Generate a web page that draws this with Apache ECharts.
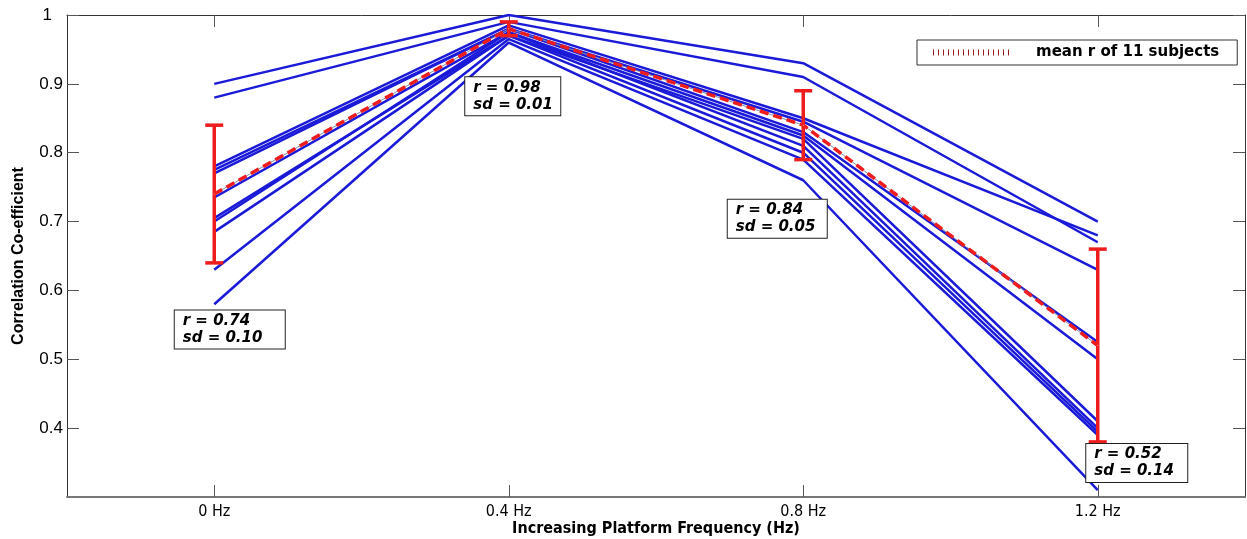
<!DOCTYPE html>
<html>
<head>
<meta charset="utf-8">
<script src="https://cdn.jsdelivr.net/npm/echarts@6/dist/echarts.min.js"></script>
<style>html,body{margin:0;padding:0;background:#fff}#c{width:1247px;height:539px}</style>
</head>
<body>
<div id="c"></div>
<script>
// ---- data ----
const freqs = [0, 0.4, 0.8, 1.2];
const freqLabels = ['0 Hz', '0.4 Hz', '0.8 Hz', '1.2 Hz'];
const yTicks = [0.4, 0.5, 0.6, 0.7, 0.8, 0.9, 1.0];
const subjectR = [
  [0.90, 1.00, 0.93, 0.70],
  [0.88, 0.99, 0.91, 0.67],
  [0.78, 0.985, 0.85, 0.68],
  [0.775, 0.98, 0.845, 0.63],
  [0.77, 0.98, 0.83, 0.525],
  [0.735, 0.975, 0.825, 0.50],
  [0.705, 0.97, 0.82, 0.41],
  [0.70, 0.975, 0.81, 0.40],
  [0.685, 0.97, 0.80, 0.395],
  [0.63, 0.965, 0.79, 0.39],
  [0.58, 0.96, 0.76, 0.31]
];
const meanR = [0.74, 0.98, 0.84, 0.52];
const sdR = [0.10, 0.01, 0.05, 0.14];
const legendName = 'mean r of 11 subjects';

// ---- styling ----
const SANS = '"Liberation Sans", Arial, Helvetica, sans-serif';
const WIDE = '"DejaVu Sans", Verdana, sans-serif';
const NARROW = '"Liberation Sans Narrow", "Arial Narrow", "DejaVu Sans Condensed", sans-serif';
const BLUE = '#1a1ad8';
const RED = '#ee1c1c';
// annotation box offsets (px) relative to the mean point, and box widths
const boxOffsets = [[-39, 117], [-43, 49], [-75, 75], [-11, 99]];
const boxWidths = [95, 80, 84, 86];

const chart = echarts.init(document.getElementById('c'), null, {renderer: 'canvas'});

const series = [];
subjectR.forEach((vals, k) => {
  series.push({
    type: 'line', name: 'subject' + (k + 1),
    data: freqs.map((f, i) => [f, vals[i]]),
    symbol: 'none', silent: true, z: 2,
    lineStyle: {color: BLUE, width: 2.5}
  });
});
// thin underlay of the mean line
series.push({
  type: 'line', name: '_meanbase',
  data: freqs.map((f, i) => [f, meanR[i]]),
  symbol: 'none', silent: true, z: 3,
  lineStyle: {color: '#8a8aa0', width: 1}
});
series.push({
  type: 'line', name: legendName,
  data: freqs.map((f, i) => [f, meanR[i]]),
  symbol: 'none', silent: true, z: 4,
  itemStyle: {color: '#9b1c1c'},
  lineStyle: {color: RED, width: 3.5, type: [9, 5]}
});
// error bars
series.push({
  type: 'custom', name: '_err', silent: true, z: 5,
  data: freqs.map((f, i) => [f, meanR[i] - sdR[i], meanR[i] + sdR[i]]),
  renderItem: function (params, api) {
    const x = api.value(0);
    const lo = api.coord([x, api.value(1)]);
    const hi = api.coord([x, api.value(2)]);
    const hw = 9;
    const st = {stroke: RED, lineWidth: 3.5};
    return {
      type: 'group',
      children: [
        {type: 'line', shape: {x1: lo[0], y1: lo[1], x2: hi[0], y2: hi[1]}, style: st},
        {type: 'line', shape: {x1: hi[0] - hw, y1: hi[1], x2: hi[0] + hw, y2: hi[1]}, style: st},
        {type: 'line', shape: {x1: lo[0] - hw, y1: lo[1], x2: lo[0] + hw, y2: lo[1]}, style: st}
      ]
    };
  }
});
// annotation boxes
const annLabel = {
  fontFamily: WIDE, fontWeight: 'bold', fontStyle: 'italic', fontSize: 15,
  lineHeight: 17, color: '#000', opacity: 1,
  backgroundColor: '#fff', borderColor: '#222', borderWidth: 1,
  padding: [2, 7, 2, 8]
};
series.push({
  type: 'scatter', name: '_ann', silent: true, z: 10,
  symbolSize: 1, itemStyle: {color: '#fff'},
  data: freqs.map((f, i) => ({
    value: [f, meanR[i]],
    label: Object.assign({}, annLabel, {
      show: true,
      position: boxOffsets[i],
      align: 'left', verticalAlign: 'top',
      width: boxWidths[i],
      formatter: 'r = ' + meanR[i].toFixed(2) + '\nsd = ' + sdR[i].toFixed(2)
    })
  })),
  label: annLabel
});

const option = {
  backgroundColor: '#fff',
  animation: false,
  grid: {left: 67, right: 2, top: 15, bottom: 42, containLabel: false, outerBoundsMode: 'none'},
  legend: {
    data: [legendName],
    left: 917, top: 40,
    itemWidth: 80, itemHeight: 8,
    padding: [5, 18, 5, 13],
    backgroundColor: '#fff', borderColor: '#333', borderWidth: 1, borderRadius: 0,
    itemStyle: {opacity: 0},
    lineStyle: {color: '#9b1c1c', width: 6, type: [1, 4]},
    textStyle: {fontFamily: WIDE, fontWeight: 'bold', fontSize: 15, color: '#000', padding: [0, 0, 0, 18]}
  },
  xAxis: [{
    type: 'value', min: -0.2, max: 1.4, position: 'bottom',
    splitLine: {show: false},
    axisLine: {show: true, onZero: false, lineStyle: {color: '#777', width: 2}},
    axisTick: {show: true, inside: true, length: 12, customValues: freqs, lineStyle: {color: '#555'}},
    axisLabel: {
      customValues: freqs, margin: 7,
      fontFamily: NARROW, fontSize: 16, color: '#000',
      formatter: v => freqLabels[freqs.findIndex(f => Math.abs(f - v) < 1e-6)]
    },
    name: 'Increasing Platform Frequency (Hz)', nameLocation: 'middle', nameGap: 24,
    nameMoveOverlap: false,
    nameTextStyle: {fontFamily: NARROW, fontWeight: 'bold', fontSize: 16, color: '#000'}
  }, {
    type: 'value', min: -0.2, max: 1.4, position: 'top',
    splitLine: {show: false},
    axisLine: {show: true, onZero: false, lineStyle: {color: '#333', width: 1}},
    axisTick: {show: true, inside: true, length: 12, customValues: freqs, lineStyle: {color: '#555'}},
    axisLabel: {show: false}
  }],
  yAxis: [{
    type: 'value', min: 0.3, max: 1, position: 'left',
    splitLine: {show: false},
    axisLine: {show: true, onZero: false, lineStyle: {color: '#333', width: 1}},
    axisTick: {show: true, inside: true, length: 12, customValues: yTicks, lineStyle: {color: '#555'}},
    axisLabel: {
      customValues: yTicks, margin: 4,
      fontFamily: SANS, fontSize: 17, color: '#000',
      formatter: v => (Math.abs(v - 1) < 1e-6 ? '{one|1}' : v.toFixed(1)),
      rich: {one: {fontFamily: SANS, fontSize: 17, color: '#000', padding: [0, 11, 0, 0]}}
    },
    name: 'Correlation Co-efficient', nameLocation: 'middle', nameGap: 40, nameRotate: 90,
    nameMoveOverlap: false,
    nameTextStyle: {fontFamily: SANS, fontWeight: 'bold', fontSize: 16, color: '#000'}
  }, {
    type: 'value', min: 0.3, max: 1, position: 'right',
    splitLine: {show: false},
    axisLine: {show: true, onZero: false, lineStyle: {color: '#333', width: 1}},
    axisTick: {show: true, inside: true, length: 12, customValues: yTicks, lineStyle: {color: '#555'}},
    axisLabel: {show: false}
  }],
  series: series
};
chart.setOption(option);
</script>
</body>
</html>
